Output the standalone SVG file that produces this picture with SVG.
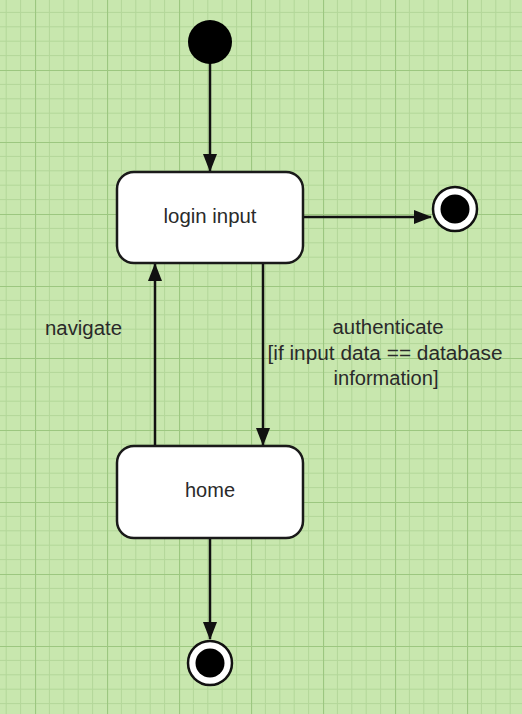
<svg xmlns="http://www.w3.org/2000/svg" width="522" height="714" viewBox="0 0 522 714">
<style>
.node{fill:#ffffff;stroke:#1a1a1a;stroke-width:2.5}
.lbl{font-family:"Liberation Sans",Arial,sans-serif;font-size:20px;fill:#2a2a2a}
.edge{stroke:#111111;stroke-width:2.5;fill:none}
</style>
<defs>
<pattern id="grid" patternUnits="userSpaceOnUse" x="35" y="70" width="72" height="72">
<rect width="72" height="72" fill="#c8e7ae"/>
<path d="M14.4 0V72M28.8 0V72M43.2 0V72M57.6 0V72M0 14.4H72M0 28.8H72M0 43.2H72M0 57.6H72" stroke="#b3d799" stroke-width="1"/>
<path d="M0.5 0V72M0 0.5H72" stroke="#9cc780" stroke-width="1.2"/>
</pattern>
<marker id="arr" markerWidth="18" markerHeight="14" refX="17" refY="7" orient="auto" markerUnits="userSpaceOnUse">
<path d="M0 0L18 7L0 14Z" fill="#111111"/>
</marker>
</defs>
<rect width="522" height="714" fill="url(#grid)"/>
<g id="connectors">
<line class="edge" x1="210" y1="62" x2="210" y2="171" marker-end="url(#arr)"/>
<line class="edge" x1="303" y1="217" x2="431" y2="217" marker-end="url(#arr)"/>
<line class="edge" x1="263" y1="264" x2="263" y2="445" marker-end="url(#arr)"/>
<line class="edge" x1="155" y1="446" x2="155" y2="264" marker-end="url(#arr)"/>
<line class="edge" x1="210" y1="539" x2="210" y2="639" marker-end="url(#arr)"/>
<text class="lbl" x="45" y="335" textLength="77" lengthAdjust="spacingAndGlyphs">navigate</text>
<text class="lbl" x="388" y="334" text-anchor="middle" textLength="111" lengthAdjust="spacingAndGlyphs">authenticate</text>
<text class="lbl" x="385" y="360" text-anchor="middle" textLength="235" lengthAdjust="spacingAndGlyphs">[if input data == database</text>
<text class="lbl" x="386" y="385" text-anchor="middle" textLength="105" lengthAdjust="spacingAndGlyphs">information]</text>
</g>
<g id="start">
<circle cx="210" cy="42" r="22" fill="#000000"/>
</g>
<g id="login">
<rect class="node" x="117" y="172" width="186" height="91" rx="17"/>
<text class="lbl" x="210" y="223" text-anchor="middle" textLength="93" lengthAdjust="spacingAndGlyphs">login input</text>
</g>
<g id="end1">
<circle cx="455" cy="209" r="22" fill="#ffffff" stroke="#111111" stroke-width="2.5"/>
<circle cx="455" cy="209" r="14.5" fill="#000000"/>
</g>
<g id="home">
<rect class="node" x="117" y="446" width="186" height="92" rx="17"/>
<text class="lbl" x="210" y="497" text-anchor="middle" textLength="50" lengthAdjust="spacingAndGlyphs">home</text>
</g>
<g id="end2">
<circle cx="210" cy="663" r="22" fill="#ffffff" stroke="#111111" stroke-width="2.5"/>
<circle cx="210" cy="663" r="14.5" fill="#000000"/>
</g>
</svg>
